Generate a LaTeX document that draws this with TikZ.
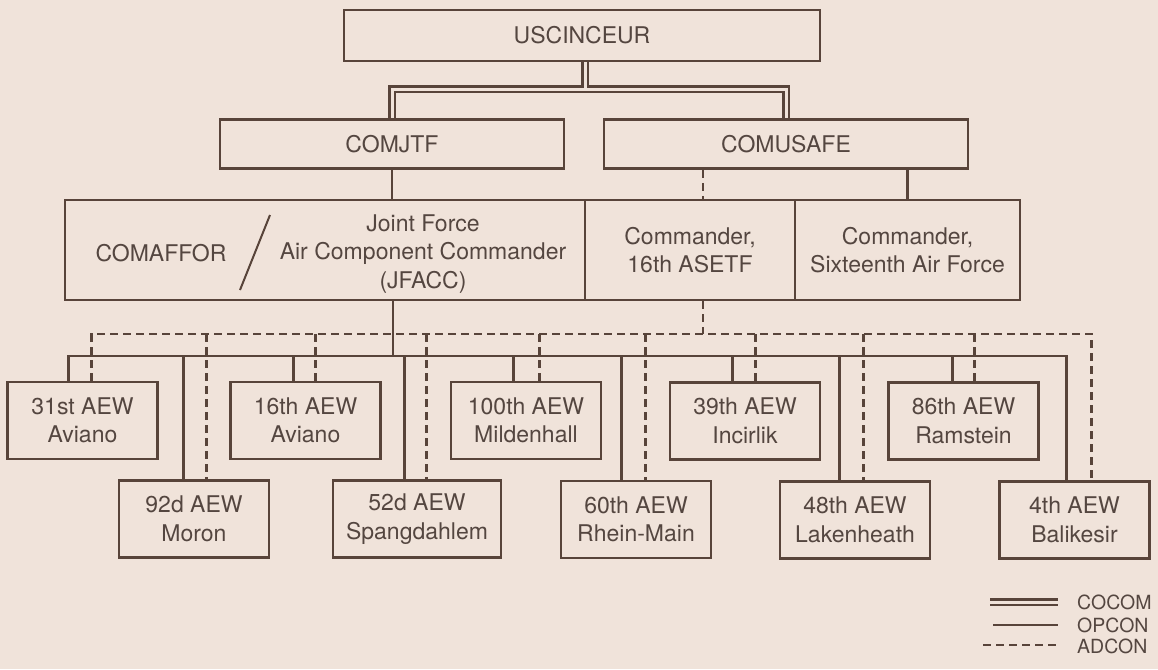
\documentclass[tikz,border=0pt]{standalone}
\usepackage{fontspec}
\setmainfont{TeX Gyre Heros}
\usetikzlibrary{backgrounds}
\definecolor{bg}{RGB}{240,227,218}
\definecolor{ln}{RGB}{88,68,58}
\definecolor{tx}{RGB}{84,70,64}
\begin{document}
\begin{tikzpicture}[x=1pt,y=-1pt,
  box/.style={draw=ln, line width=2.9pt, fill=bg, rectangle, inner sep=0pt, align=center, text=tx, font=\fontsize{23}{28.5}\selectfont},
  aew/.style={box, minimum width=150pt, minimum height=77pt},
  txt/.style={text=tx, font=\fontsize{23}{28.5}\selectfont, align=center, inner sep=0pt},
  opcon/.style={draw=ln, line width=2.7pt},
  adcon/.style={draw=ln, line width=2.7pt, dash pattern=on 8pt off 5pt},
  cocom/.style={draw=ln, line width=2.6pt, double=bg, double distance=3pt},
  leg/.style={text=tx, font=\fontsize{19.5}{22}\selectfont, anchor=west, inner sep=0pt}
]
\useasboundingbox (0,0) rectangle (1158,669);

% top boxes
\node[box, minimum width=476pt, minimum height=51pt] (usc) at (582,35.5) {USCINCEUR};
\node[box, minimum width=344pt, minimum height=49pt] (jtf) at (392,144) {COMJTF};
\node[box, minimum width=364pt, minimum height=49pt] (usafe) at (786,144) {COMUSAFE};

% middle row
\node[box, minimum width=520pt, minimum height=100pt] (jfacc) at (325,250) {};
\node[box, minimum width=210pt, minimum height=100pt] (asetf) at (690,250) {Commander,\\16th ASETF};
\node[box, minimum width=225pt, minimum height=100pt] (sixt) at (907.5,250) {Commander,\\Sixteenth Air Force};
\node[txt] (comaffor) at (161,253) {COMAFFOR};
\node[txt] (jfacctext) at (423,254) {Joint Force\\Air Component Commander\\(JFACC)};
\coordinate (slashtop) at (270,215);
\coordinate (slashbot) at (240,290);
\draw[ln, line width=2pt] (slashtop) -- (slashbot);

% AEW boxes
\node[aew] (a31) at (82.5,420.5) {31st AEW\\Aviano};
\node[aew] (a16) at (305.5,420.5) {16th AEW\\Aviano};
\node[aew] (a100) at (526,420.5) {100th AEW\\Mildenhall};
\node[aew] (a39) at (745,421) {39th AEW\\Incirlik};
\node[aew] (a86) at (963.5,421) {86th AEW\\Ramstein};
\node[aew] (a92) at (194,519) {92d AEW\\Moron};
\node[aew, minimum width=168pt] (a52) at (417,519) {52d AEW\\Spangdahlem};
\node[aew] (a60) at (636,519.5) {60th AEW\\Rhein-Main};
\node[aew] (a48) at (855,520) {48th AEW\\Lakenheath};
\node[aew] (a4) at (1074.5,520) {4th AEW\\Balikesir};

\foreach \n/\s/\d in {a31/62.5/85.5, a92/66/89, a16/64.5/86.5, a52/73/95, a100/64/90,
                      a60/62/86, a39/64/87, a48/61/85, a86/65.5/87.5, a4/68.5/93.5} {
  \coordinate (\n s) at ([xshift=\s pt]\n.north west);
  \coordinate (\n d) at ([xshift=\d pt]\n.north west);
}

\coordinate (cj) at (585,89);
\coordinate (db) at (703,334);
\coordinate (sb) at (393,356);

\begin{pgfonlayer}{background}
  \fill[bg] (0,0) rectangle (1158,669);
  % COCOM
  \draw[cocom] (usc.south -| cj) -- (cj) -| (jtf.north) (cj) -| (usafe.north);
  % OPCON / ADCON upper
  \draw[opcon] (jtf.south) -- (jtf.south |- jfacc.north);
  \draw[opcon] (usafe.south -| sixt.north) -- (sixt.north);
  \draw[adcon] (usafe.south -| db) -- (asetf.north -| db);
  \draw[adcon] (asetf.south -| db) -- (db);
  \draw[opcon] (jfacc.south -| sb) -- (sb);
  % buses
  \draw[opcon] (a31s) |- (sb) -| (a4s);
  \draw[adcon] (a31d) |- (db) -| (a4d);
  \foreach \n in {a92,a16,a52,a100,a60,a39,a48,a86} {
    \draw[opcon] (\n s |- sb) -- (\n s);
    \draw[adcon] (\n d |- db) -- (\n d);
  }
\end{pgfonlayer}

% legend
\node[leg] (lcocom) at (1077,602) {COCOM};
\node[leg] (lopcon) at (1077,625) {OPCON};
\node[leg] (ladcon) at (1077,646) {ADCON};
\coordinate (lc1) at (990,602);
\coordinate (lc2) at (1058,602);
\coordinate (lo1) at (993,625);
\coordinate (lo2) at (1058,625);
\coordinate (la1) at (983,645);
\coordinate (la2) at (1058,645);
\draw[cocom] (lc1) -- (lc2);
\draw[opcon] (lo1) -- (lo2);
\draw[adcon] (la1) -- (la2);
\end{tikzpicture}
\end{document}
